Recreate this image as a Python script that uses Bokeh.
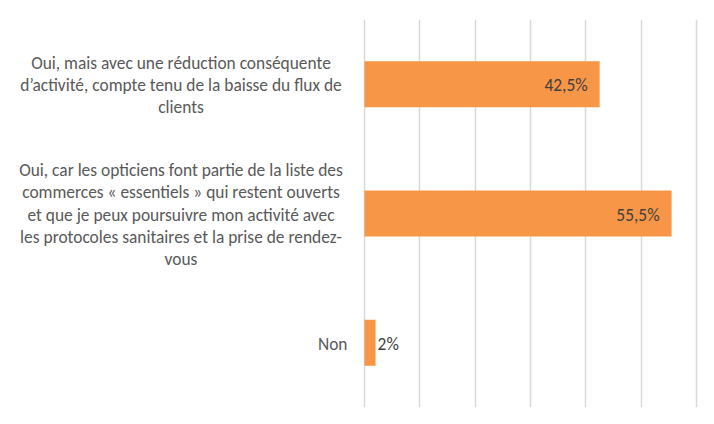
from bokeh.plotting import figure
from bokeh.models import ColumnDataSource, FactorRange, Range1d, FixedTicker
from bokeh.core.properties import value
from bokeh.embed import file_html
from bokeh.resources import INLINE

# ---- data ----
categories = [
    "Oui, mais avec une réduction conséquente\nd’activité, compte tenu de la baisse du flux de\nclients",
    "Oui, car les opticiens font partie de la liste des\ncommerces « essentiels » qui restent ouverts\net que je peux poursuivre mon activité avec\nles protocoles sanitaires et la prise de rendez-\nvous",
    "Non",
]
values = [0.425, 0.555, 0.02]
value_labels = ["42,5%", "55,5%", "2%"]
grid_ticks = [0.0, 0.1, 0.2, 0.3, 0.4, 0.5, 0.6]

FONT = value("Carlito")
BAR = "#F79646"
FS = "17.4px"
LINE_H = 22.2

# frame spans the full width; 0 sits at 364 px, 553.3 px per unit
PX = 553.3
p = figure(
    width=714, height=424,
    y_range=FactorRange(factors=list(reversed(categories)), range_padding=0),
    x_range=Range1d(-364 / PX, (714 - 364) / PX),
    output_backend="svg", toolbar_location=None,
    min_border_left=0, min_border_right=0, min_border_top=19, min_border_bottom=17,
)
p.outline_line_color = None
p.background_fill_color = "white"
p.border_fill_color = "white"
p.xaxis.visible = False
p.yaxis.visible = False
p.ygrid.grid_line_color = None
p.xgrid.ticker = FixedTicker(ticks=grid_ticks)
p.xgrid.grid_line_color = "#D9D9D9"
p.xgrid.grid_line_width = 1.5

src = ColumnDataSource(dict(cat=categories, val=values, lab=value_labels))
p.hbar(y="cat", right="val", left=0, height=0.356, source=src,
       fill_color=BAR, line_color=None)

# category labels: block right-aligned next to the axis, lines centred in the block
multi = dict(cat=[], line=[], yoff=[])
single = dict(cat=[], line=[])
for c in categories:
    lines = c.split("\n")
    n = len(lines)
    if n == 1:
        single["cat"].append(c)
        single["line"].append(c)
        continue
    for i, ln in enumerate(lines):
        multi["cat"].append(c)
        multi["line"].append(ln)
        multi["yoff"].append((i - (n - 1) / 2) * LINE_H + 1)
p.text(x=0, y="cat", text="line", source=ColumnDataSource(multi),
       x_offset=-183.5, y_offset="yoff",
       text_align="center", text_baseline="middle",
       text_font=FONT, text_font_size=FS, text_color="#595959")
p.text(x=0, y="cat", text="line", source=ColumnDataSource(single),
       x_offset=-17, y_offset=1,
       text_align="right", text_baseline="middle",
       text_font=FONT, text_font_size=FS, text_color="#595959")

inside = [i for i, v in enumerate(values) if v >= 0.1]
outside = [i for i, v in enumerate(values) if v < 0.1]
src_in = ColumnDataSource(dict(cat=[categories[i] for i in inside],
                               val=[values[i] for i in inside],
                               lab=[value_labels[i] for i in inside]))
src_out = ColumnDataSource(dict(cat=[categories[i] for i in outside],
                                val=[values[i] for i in outside],
                                lab=[value_labels[i] for i in outside]))
p.text(x="val", y="cat", text="lab", source=src_in, x_offset=-12, y_offset=1,
       text_align="right", text_baseline="middle",
       text_font=FONT, text_font_size=FS, text_color="#404040")
p.text(x="val", y="cat", text="lab", source=src_out, x_offset=2, y_offset=1,
       text_align="left", text_baseline="middle",
       text_font=FONT, text_font_size=FS, text_color="#404040")

open("out.html", "w").write(file_html(p, INLINE))
